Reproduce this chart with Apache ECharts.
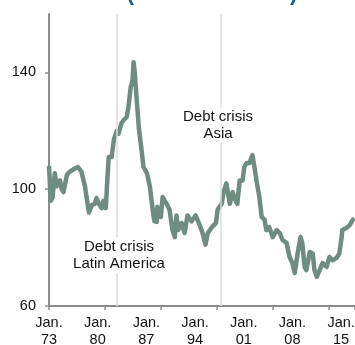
<!DOCTYPE html>
<html>
<head>
<meta charset="utf-8">
<script src="https://cdn.jsdelivr.net/npm/echarts@6/dist/echarts.min.js"></script>
<style>
  html, body { margin: 0; padding: 0; background: #fff; }
  #chart { width: 355px; height: 345px; }
</style>
</head>
<body>
<div id="chart"></div>
<script>
// monthly index
var months = [
    '1973-01', '1973-04', '1973-07', '1973-11', '1974-02', '1974-08', '1974-11', '1975-02', '1975-08', '1976-01',
    '1976-09', '1977-03', '1977-09', '1978-03', '1978-06', '1978-10', '1979-03', '1979-08', '1979-11', '1980-03',
    '1980-08', '1980-11', '1981-03', '1981-05', '1981-08', '1982-01', '1982-05', '1982-10', '1983-01', '1983-06',
    '1983-10', '1984-03', '1984-06', '1984-10', '1985-01', '1985-03', '1985-05', '1985-08', '1985-12', '1986-05',
    '1986-08', '1987-02', '1987-07', '1987-10', '1988-02', '1988-03', '1988-07', '1988-08', '1989-02', '1989-05',
    '1989-12', '1990-05', '1990-10', '1991-02', '1991-05', '1991-08', '1992-02', '1992-07', '1992-12', '1993-07',
    '1994-02', '1994-09', '1995-02', '1995-07', '1995-11', '1996-06', '1997-01', '1997-04', '1997-11', '1998-02',
    '1998-07', '1999-01', '1999-06', '1999-11', '2000-02', '2000-06', '2000-11', '2001-02', '2001-06', '2001-11',
    '2002-04', '2002-08', '2002-11', '2003-04', '2003-08', '2004-01', '2004-04', '2004-09', '2005-03', '2005-10',
    '2006-03', '2006-08', '2006-11', '2007-03', '2007-08', '2008-01', '2008-05', '2008-10', '2009-03', '2009-06',
    '2009-10', '2010-01', '2010-07', '2010-12', '2011-03', '2011-07', '2011-12', '2012-05', '2012-12', '2013-05',
    '2013-10', '2014-05', '2014-10', '2015-02', '2015-03', '2015-10', '2016-04', '2016-09', '2016-12'
];
var index_values = [
    108, 96, 97, 105.5, 101, 103, 100, 99, 105, 106,
    107, 107.6, 106, 101, 97, 92, 94.6, 95, 97, 95,
    93.5, 96, 93.5, 101, 111, 111, 117, 120, 119, 122.6,
    123.7, 124.7, 128, 135, 137, 143.5, 140, 131.6, 121, 113,
    107.6, 105.5, 101, 96, 90, 89, 88.8, 94, 90.5, 97.3,
    95, 93, 86, 83.6, 91, 86, 88.4, 85, 91, 89,
    91, 87.7, 85, 81, 85, 87, 88.4, 93, 95, 98.7,
    102, 95, 99, 96, 95, 103, 103, 107.6, 109, 109,
    111.7, 107, 103, 97.3, 90.5, 89.5, 86, 87, 83.6, 86,
    85, 82.6, 82, 81.6, 76.8, 74.7, 71.3, 78, 83.6, 81.6,
    73.4, 72.3, 78.5, 78, 72.3, 70, 72.3, 74.7, 73.4, 76.8,
    75.7, 76.4, 78, 83.6, 86, 86.7, 87.7, 89.5, 90
];
var y_ticks = [60, 100, 140];
var crisis_dates = [1982.75, 1997.7];
var crisis_labels = ['Debt crisis\nLatin America', 'Debt crisis\nAsia'];
var crisis_label_pos = [[1983.06, 77.5], [1997.3, 121.8]];

function toYear(s) {
    var p = s.split('-');
    return +p[0] + (+p[1] - 1) / 12;
}

var lineData = months.map(function (m, i) {
    return [toYear(m), index_values[i]];
});

var mychart = echarts.init(document.getElementById('chart'));
var font = 'Liberation Sans, Arial, sans-serif';

var option = {
    animation: false,
    title: {
        text: '(Mar 1973 = 100)',
        left: 207,
        top: -22,
        textAlign: 'center',
        textStyle: {
            color: '#17609a',
            fontSize: 22,
            fontWeight: 'bold',
            fontFamily: font
        }
    },
    grid: {
        left: 49,
        right: 0,
        top: 14,
        bottom: 39,
        outerBoundsMode: 'none'
    },
    xAxis: [{
            type: 'value',
            min: 1973,
            max: 2017,
            interval: 7,
            axisLine: {
                lineStyle: { color: '#8c8c8c', width: 2 }
            },
            axisTick: { show: false },
            splitLine: { show: false },
            axisLabel: {
                showMaxLabel: false,
                margin: 8,
                color: '#111',
                fontSize: 14.5,
                lineHeight: 17,
                fontFamily: font,
                formatter: function (v) {
                    var yy = String(v % 100);
                    if (yy.length < 2) yy = '0' + yy;
                    return 'Jan.\n' + yy;
                }
            }
        },
        {
            // the original's tick marks do not sit under the labels
            type: 'value',
            position: 'bottom',
            min: 0,
            max: 306 / 56,
            interval: 1,
            axisLine: { show: false },
            axisLabel: { show: false },
            splitLine: { show: false },
            axisTick: {
                show: true,
                length: 4,
                lineStyle: { color: '#8c8c8c', width: 1.5 }
            }
        }
    ],
    yAxis: {
        type: 'value',
        min: y_ticks[0],
        max: 160,
        interval: y_ticks[1] - y_ticks[0],
        axisLine: {
            show: true,
            lineStyle: { color: '#8c8c8c', width: 2 }
        },
        axisTick: {
            show: true,
            length: 4,
            lineStyle: { color: '#8c8c8c', width: 1.5 }
        },
        splitLine: { show: false },
        axisLabel: {
            showMaxLabel: false,
            margin: 13,
            color: '#111',
            fontSize: 14.5,
            fontFamily: font
        }
    },
    series: [{
            // crisis marker lines, under the data
            type: 'line',
            data: [],
            z: 1,
            silent: true,
            markLine: {
                silent: true,
                symbol: 'none',
                label: { show: false },
                lineStyle: { color: '#dcdcdc', width: 1.5, type: 'solid' },
                data: crisis_dates.map(function (d) { return { xAxis: d }; })
            }
        },
        {
            type: 'line',
            data: lineData,
            z: 2,
            showSymbol: false,
            smooth: false,
            lineStyle: {
                color: '#6e8c7f',
                width: 4.5,
                join: 'round'
            }
        },
        {
            // crisis labels
            type: 'line',
            data: [],
            z: 3,
            silent: true,
            markPoint: {
                silent: true,
                symbol: 'rect',
                symbolSize: 1,
                itemStyle: { color: 'transparent' },
                label: {
                    show: true,
                    position: 'inside',
                    color: '#111',
                    fontSize: 15,
                    lineHeight: 17,
                    fontFamily: font,
                    backgroundColor: '#fff',
                    padding: [1, 3],
                    formatter: function (p) { return p.name; }
                },
                data: crisis_labels.map(function (t, i) {
                    return { name: t, coord: crisis_label_pos[i] };
                })
            }
        }
    ]
};

mychart.setOption(option);
</script>
</body>
</html>
